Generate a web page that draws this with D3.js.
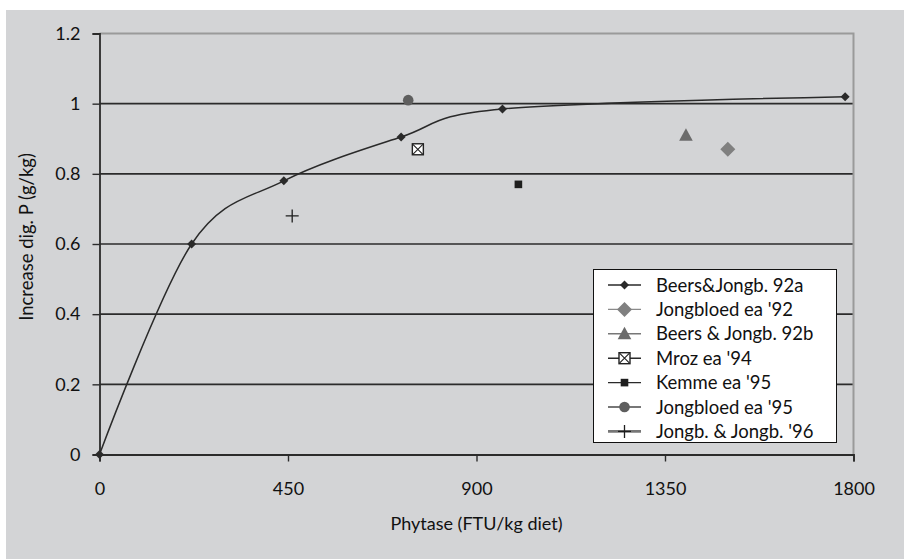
<!DOCTYPE html>
<html>
<head>
<meta charset="utf-8">
<script src="https://cdn.jsdelivr.net/npm/d3@7/dist/d3.min.js"></script>
<style>
  html, body { margin: 0; padding: 0; background: #ffffff; }
  svg { display: block; }
  text { font-family: "Gill Sans", "Gill Sans MT", Lato, "Open Sans", sans-serif; fill: #111; }
</style>
</head>
<body>
<svg id="chart" width="904" height="559"></svg>
<script>
// Beers & Jongbloed 1992a: dose-response series drawn as a smoothed line
const beers92aPhytase = [0, 220, 440, 720, 962, 1780];
const beers92aIncrease = [0, 0.60, 0.78, 0.905, 0.985, 1.02];

// Single observations from other studies
const studyNames = ["Jongbloed ea '92", "Beers & Jongb. 92b", "Mroz ea '94", "Kemme ea '95", "Jongbloed ea '95", "Jongb. & Jongb. '96"];
const studyPhytase = [1500, 1400, 760, 1000, 737, 460];
const studyIncrease = [0.87, 0.91, 0.87, 0.77, 1.01, 0.68];

const legendNames = ["Beers&Jongb. 92a"].concat(studyNames);

const xTicks = [0, 450, 900, 1350, 1800];
const yTicks = [0, 0.2, 0.4, 0.6, 0.8, 1, 1.2];

const svg = d3.select("#chart");

// panel background
svg.append("rect").attr("x", 6).attr("y", 10).attr("width", 898).attr("height", 549).attr("fill", "#d3d4d6");

const x = d3.scaleLinear().domain([0, 1800]).range([99.5, 853.5]);
const y = d3.scaleLinear().domain([0, 1.2]).range([454.5, 33.5]);

// horizontal gridlines
svg.append("g").selectAll("line").data(yTicks.filter(d => d > 0 && d < 1.2)).join("line")
  .attr("x1", x(0)).attr("x2", x(1800))
  .attr("y1", d => y(d)).attr("y2", d => y(d))
  .attr("stroke", "#2b2b2b").attr("stroke-width", 1.6);

// plot area frame (top and right)
svg.append("path")
  .attr("d", `M${x(0)},${y(1.2)}H${x(1800)}V${y(0)}`)
  .attr("fill", "none").attr("stroke", "#9a9a9a").attr("stroke-width", 2);

// axes
const xAxis = svg.append("g").attr("transform", `translate(0,${y(0)})`)
  .call(d3.axisBottom(x).tickValues(xTicks).tickSize(7).tickPadding(21).tickFormat(d3.format("d")));
const yAxis = svg.append("g").attr("transform", `translate(${x(0)},0)`)
  .call(d3.axisLeft(y).tickValues(yTicks).tickSize(7).tickPadding(12).tickFormat(d3.format("~g")));
[xAxis, yAxis].forEach(g => {
  g.select(".domain").attr("stroke", "#2b2b2b").attr("stroke-width", 1.8);
  g.selectAll(".tick line").attr("stroke", "#2b2b2b").attr("stroke-width", 1.4);
  g.selectAll(".tick text").attr("font-size", 18).attr("fill", "#111")
    .style("font-family", '"Gill Sans", Lato, "Open Sans", sans-serif');
});

// axis titles
svg.append("text").attr("x", x(900)).attr("y", 530).attr("text-anchor", "middle")
  .attr("font-size", 18).text("Phytase (FTU/kg diet)");
svg.append("text").attr("transform", `translate(33,${y(0.62)}) rotate(-90)`)
  .attr("text-anchor", "middle").attr("font-size", 18.5).text("Increase dig. P (g/kg)");

// marker drawing helpers
const markers = [
  (g) => g.append("path").attr("d", "M0,-4.5L4.5,0L0,4.5L-4.5,0Z").attr("fill", "#2a2a2a"),
  (g) => g.append("path").attr("d", "M0,-7.5L7.5,0L0,7.5L-7.5,0Z").attr("fill", "#808080"),
  (g) => g.append("path").attr("d", "M0,-7L6.8,5.5L-6.8,5.5Z").attr("fill", "#6b6b6b"),
  (g) => {
    g.append("rect").attr("x", -5.5).attr("y", -5.5).attr("width", 11).attr("height", 11)
      .attr("fill", "#ffffff").attr("stroke", "#222").attr("stroke-width", 1.4);
    g.append("path").attr("d", "M-5,-5L5,5M5,-5L-5,5").attr("stroke", "#222").attr("stroke-width", 1.1);
  },
  (g) => g.append("rect").attr("x", -3.8).attr("y", -3.8).attr("width", 7.6).attr("height", 7.6).attr("fill", "#1e1e1e"),
  (g) => g.append("circle").attr("r", 5.3).attr("fill", "#5e5e5e"),
  (g) => g.append("path").attr("d", "M-6.5,0H6.5M0,-6.5V6.5").attr("stroke", "#1e1e1e").attr("stroke-width", 1.3)
];
const legendLineColors = ["#2a2a2a", "#8a8a8a", "#777777", "#2a2a2a", "#2a2a2a", "#4a4a4a", "#777777"];
const legendLineWidths = [1.4, 1.4, 1.4, 1.4, 1.4, 1.4, 2.6];

// smoothed series line
const line = d3.line().x(d => x(d[0])).y(d => y(d[1])).curve(d3.curveCatmullRom.alpha(0));
const beersPts = beers92aPhytase.map((v, i) => [v, beers92aIncrease[i]]);
svg.append("path").datum(beersPts).attr("d", line)
  .attr("fill", "none").attr("stroke", "#2a2a2a").attr("stroke-width", 1.5);
beersPts.forEach(p => {
  const g = svg.append("g").attr("transform", `translate(${x(p[0])},${y(p[1])})`);
  markers[0](g);
});

// single study points
studyPhytase.forEach((v, i) => {
  const g = svg.append("g").attr("transform", `translate(${x(v)},${y(studyIncrease[i])})`);
  markers[i + 1](g);
});

// legend
const lg = svg.append("g");
lg.append("rect").attr("x", 593.5).attr("y", 269.5).attr("width", 243).attr("height", 173)
  .attr("fill", "#ffffff").attr("stroke", "#111").attr("stroke-width", 1);
legendNames.forEach((name, i) => {
  const yy = 285 + i * 24.4;
  lg.append("line").attr("x1", 608).attr("x2", 641).attr("y1", yy).attr("y2", yy)
    .attr("stroke", legendLineColors[i]).attr("stroke-width", legendLineWidths[i]);
  const g = lg.append("g").attr("transform", `translate(624.5,${yy})`);
  markers[i](g);
  lg.append("text").attr("x", 656).attr("y", yy).attr("dy", "0.36em")
    .attr("font-size", 18.5).text(name);
});
</script>
</body>
</html>
